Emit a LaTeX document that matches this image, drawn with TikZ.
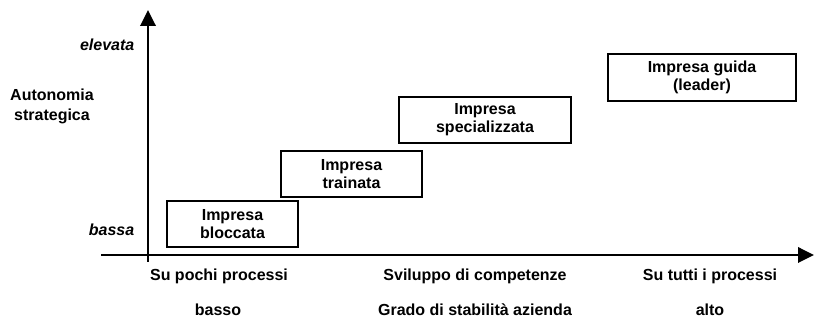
\documentclass[tikz,border=0pt]{standalone}
\usepackage{fontspec}
\setmainfont{Liberation Sans}
\usepackage{tikz}
\usetikzlibrary{arrows.meta,positioning}

\begin{document}
\begin{tikzpicture}[x=0.75pt, y=-0.75pt, font=\fontsize{12}{15}\selectfont\bfseries,
   axis/.style={line width=1.8pt, -{Triangle[length=12pt,width=11.5pt]}},
   impresa/.style={draw, line width=1.4pt, inner sep=0pt, align=center, minimum height=34.5pt,
     font=\fontsize{12}{13.5}\selectfont\bfseries}]
   \useasboundingbox (0,0) rectangle (814,323);
   % assi
   \coordinate (ybot) at (148,262);
   \coordinate (ytop) at (148,10);
   \coordinate (xstart) at (101,255);
   \coordinate (xend) at (814,255);
   \draw[axis] (ybot) -- (ytop);
   \draw[axis] (xstart) -- (xend);
   % etichette asse verticale
   \node[anchor=east, font=\fontsize{12}{15}\selectfont\bfseries\itshape] (elev) at (139,45) {elevata};
   \node[anchor=east, font=\fontsize{12}{15}\selectfont\bfseries\itshape] (bassa) at (139,230) {bassa};
   \node[align=center] (auton) at (52,106) {Autonomia\\strategica};
   % etichette asse orizzontale
   \node (pochi) at (219,276) {Su pochi processi};
   \node (svil) at (475,276) {Sviluppo di competenze};
   \node (tutti) at (710,276) {Su tutti i processi};
   \node (basso) at (218,310) {basso};
   \node (grado) at (475,310) {Grado di stabilità azienda};
   \node (alto) at (710,310) {alto};
   % imprese
   \begin{scope}[every node/.style={impresa}]
    \node[minimum width=98.25pt] (bloc) at (232.5,224) {Impresa\\bloccata};
    \node[minimum width=105.75pt] (train) at (351.5,174) {Impresa\\trainata};
    \node[minimum width=129pt] (spec) at (485,120) {Impresa\\specializzata};
    \node[minimum width=141pt, minimum height=35.25pt] (guida) at (702,77.5) {Impresa guida\\(leader)};
   \end{scope}
\end{tikzpicture}
\end{document}
